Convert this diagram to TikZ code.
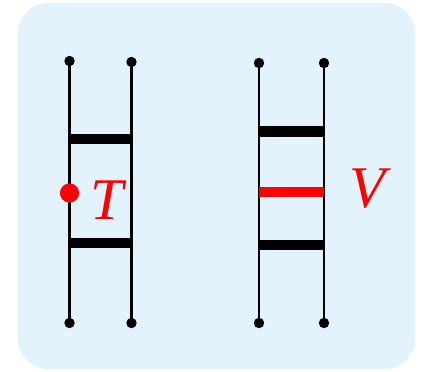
\documentclass[tikz,border=0pt]{standalone}
\usepackage{fontspec}
\setmainfont{Liberation Serif}
\usepackage{tikz}
\usetikzlibrary{positioning}
\definecolor{fondo}{HTML}{E3F3FE}
\tikzset{
  panel/.style={fill=fondo, draw=none, rounded corners=0.75cm},
  rail/.style={line width=2pt, black},
  rung/.style={line width=7.4pt, black},
  hotrung/.style={line width=7.4pt, red},
  pin/.style={circle, fill=black, inner sep=0pt, minimum size=0.26cm},
  hotpin/.style={circle, fill=red, inner sep=0pt, minimum size=0.48cm},
  tag/.style={text=red, inner sep=0pt, font=\fontsize{42}{48}\selectfont\itshape}
}

\begin{document}
\begin{tikzpicture}[x=0.025cm, y=-0.025cm]

  % 0. Fondo
  \useasboundingbox (0,0) rectangle (423,371);
  \path[panel] (18,3) rectangle (415,369);

  % 1. Escalera izquierda
  \node[pin] (a1) at (69.5,61) {};
  \node[pin] (a2) at (69.5,323) {};
  \node[pin] (b1) at (131.5,62) {};
  \node[pin] (b2) at (131.5,323) {};
  \draw[rail] (a1.center) -- (a2.center);
  \draw[rail] (b1.center) -- (b2.center);
  \coordinate (ra1) at (69.5,139);  \coordinate (rb1) at (131.5,139);
  \coordinate (ra2) at (69.5,243);  \coordinate (rb2) at (131.5,243);
  \draw[rung] (ra1) -- (rb1);
  \draw[rung] (ra2) -- (rb2);
  \node[hotpin] (dot) at (69.5,193) {};
  \node[tag, anchor=base] (T) at (107,219) {T};

  % 2. Escalera derecha
  \node[pin] (c1) at (259,63) {};
  \node[pin] (c2) at (259,323) {};
  \node[pin] (d1) at (324,63) {};
  \node[pin] (d2) at (324,323) {};
  \draw[rail] (c1.center) -- (c2.center);
  \draw[rail] (d1.center) -- (d2.center);
  \coordinate (rc1) at (259,131.5); \coordinate (rd1) at (324,131.5);
  \coordinate (rc2) at (259,192);   \coordinate (rd2) at (324,192);
  \coordinate (rc3) at (259,245);   \coordinate (rd3) at (324,245);
  \draw[rung] (rc1) -- (rd1);
  \draw[hotrung] (rc2) -- (rd2);
  \draw[rung] (rc3) -- (rd3);
  \node[tag, anchor=base] (V) at (368,207) {V};

\end{tikzpicture}
\end{document}
